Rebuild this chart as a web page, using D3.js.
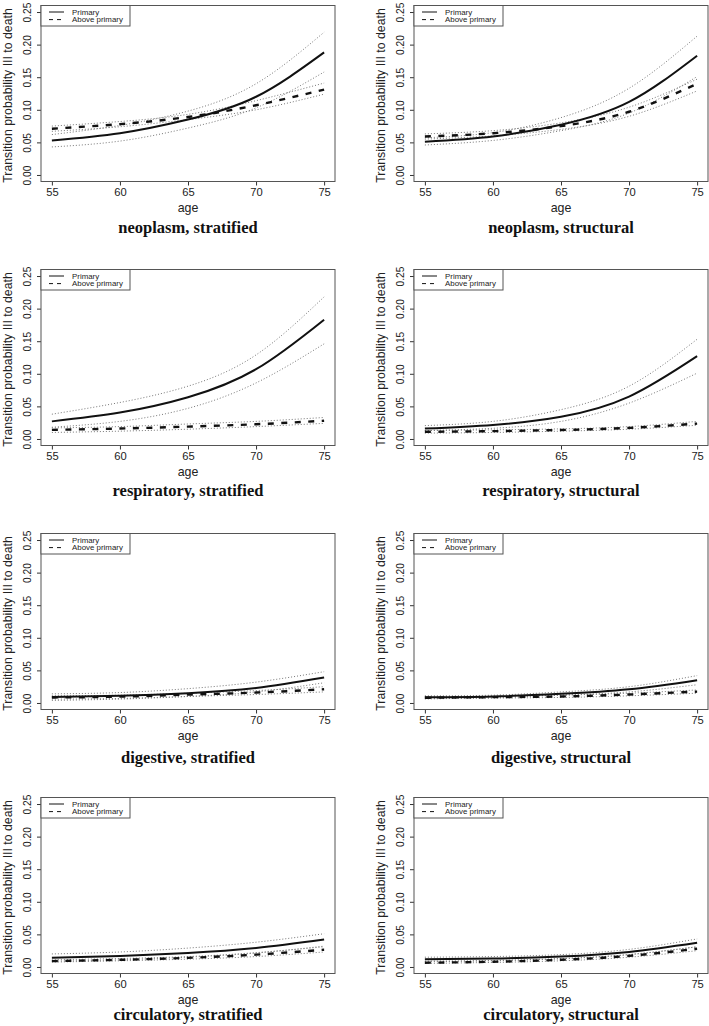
<!DOCTYPE html>
<html>
<head>
<meta charset="utf-8">
<script src="https://cdn.jsdelivr.net/npm/d3@7"></script>
<style>
  html, body { margin: 0; padding: 0; background: #fff; }
  svg { display: block; }
</style>
</head>
<body>
<svg id="chart" width="709" height="1026"></svg>
<script>
// ---------- data ----------
const ages = [55, 60, 65, 70, 75];
const xTicks = [55, 60, 65, 70, 75];
const yTicks = [0, 0.05, 0.10, 0.15, 0.20, 0.25];
const yLabel = "Transition probability III to death";
const xLabel = "age";
const legendLabels = ["Primary", "Above primary"];

const titles = [
  "neoplasm, stratified", "neoplasm, structural",
  "respiratory, stratified", "respiratory, structural",
  "digestive, stratified", "digestive, structural",
  "circulatory, stratified", "circulatory, structural"
];

// Primary (solid) estimate and confidence limits, per panel
const primary = [
  [0.053, 0.064, 0.085, 0.120, 0.188],
  [0.051, 0.059, 0.077, 0.112, 0.183],
  [0.027, 0.0405, 0.064, 0.107, 0.183],
  [0.016, 0.0216, 0.034, 0.065, 0.127],
  [0.009, 0.011, 0.015, 0.023, 0.039],
  [0.0087, 0.010, 0.014, 0.021, 0.035],
  [0.0143, 0.017, 0.0214, 0.029, 0.042],
  [0.012, 0.013, 0.016, 0.023, 0.037]
];
const primaryLo = [
  [0.043, 0.052, 0.072, 0.103, 0.158],
  [0.046, 0.053, 0.068, 0.095, 0.151],
  [0.018, 0.027, 0.047, 0.086, 0.146],
  [0.0128, 0.0164, 0.027, 0.055, 0.101],
  [0.004, 0.006, 0.010, 0.017, 0.031],
  [0.0065, 0.008, 0.012, 0.017, 0.028],
  [0.009, 0.011, 0.015, 0.0214, 0.032],
  [0.009, 0.010, 0.013, 0.019, 0.031]
];
const primaryHi = [
  [0.062, 0.076, 0.098, 0.140, 0.219],
  [0.057, 0.065, 0.088, 0.133, 0.213],
  [0.038, 0.056, 0.081, 0.129, 0.218],
  [0.0205, 0.027, 0.045, 0.081, 0.153],
  [0.014, 0.016, 0.022, 0.032, 0.048],
  [0.011, 0.012, 0.017, 0.025, 0.042],
  [0.020, 0.023, 0.029, 0.038, 0.051],
  [0.015, 0.016, 0.019, 0.027, 0.043]
];
// Above primary (dashed) estimate and confidence limits, per panel
const above = [
  [0.071, 0.078, 0.089, 0.107, 0.131],
  [0.059, 0.064, 0.075, 0.097, 0.140],
  [0.014, 0.016, 0.019, 0.0226, 0.028],
  [0.011, 0.012, 0.0138, 0.017, 0.0236],
  [0.0085, 0.0097, 0.0128, 0.016, 0.021],
  [0.008, 0.009, 0.010, 0.013, 0.0175],
  [0.009, 0.011, 0.014, 0.019, 0.0265],
  [0.0065, 0.008, 0.011, 0.017, 0.028]
];
const aboveLo = [
  [0.067, 0.074, 0.085, 0.100, 0.124],
  [0.055, 0.060, 0.070, 0.090, 0.129],
  [0.010, 0.012, 0.015, 0.019, 0.024],
  [0.009, 0.010, 0.012, 0.015, 0.021],
  [0.006, 0.007, 0.010, 0.013, 0.017],
  [0.0065, 0.0075, 0.0085, 0.011, 0.015],
  [0.0075, 0.0095, 0.012, 0.016, 0.023],
  [0.0055, 0.007, 0.0095, 0.015, 0.025]
];
const aboveHi = [
  [0.075, 0.082, 0.093, 0.114, 0.141],
  [0.063, 0.068, 0.080, 0.104, 0.147],
  [0.017, 0.019, 0.023, 0.027, 0.033],
  [0.013, 0.014, 0.0155, 0.019, 0.027],
  [0.011, 0.012, 0.015, 0.019, 0.025],
  [0.0095, 0.0105, 0.012, 0.015, 0.020],
  [0.011, 0.013, 0.016, 0.022, 0.031],
  [0.008, 0.0095, 0.0125, 0.019, 0.031]
];

// ---------- layout ----------
const colLeft = [41, 414];
const rowTop = [5.5, 269.5, 533.5, 797.5];
const titleOffset = [45.5, 44.5, 48, 40.5];
const W = 294, H = 176;
const axisColor = "#555";
const textColor = "#222";
const sans = "'Liberation Sans', Arial, Helvetica, sans-serif";
const serif = "'Liberation Serif', 'Times New Roman', serif";

const svg = d3.select("#chart");
const x = d3.scaleLinear().domain([54.2, 75.8]).range([0, W]);
const y = d3.scaleLinear().domain([-0.01, 0.26]).range([H, 0]);
const line = d3.line()
  .x((d, i) => x(ages[i]))
  .y(d => y(d))
  .curve(d3.curveNatural);

titles.forEach((title, p) => {
  const col = p % 2, row = Math.floor(p / 2);
  const g = svg.append("g")
    .attr("transform", `translate(${colLeft[col]},${rowTop[row]})`);

  // x axis
  const xa = g.append("g").attr("transform", `translate(0,${H})`)
    .call(d3.axisBottom(x).tickValues(xTicks).tickSize(4).tickPadding(3)
      .tickFormat(d3.format("d")));
  xa.select(".domain").remove();
  xa.selectAll("line").attr("stroke", "#333");
  xa.selectAll("text").attr("font-family", sans).attr("font-size", 11.2)
    .attr("fill", textColor);

  // y axis
  const ya = g.append("g")
    .call(d3.axisLeft(y).tickValues(yTicks).tickSize(4).tickPadding(0)
      .tickFormat(d3.format(".2f")));
  ya.select(".domain").remove();
  ya.selectAll("line").attr("stroke", "#333");
  ya.selectAll("text")
    .attr("font-family", sans).attr("font-size", 10.2).attr("fill", textColor)
    .attr("x", null).attr("dy", null)
    .attr("text-anchor", "middle")
    .attr("transform", "translate(-10,0) rotate(-90)");

  // box
  g.append("rect").attr("x", 0).attr("y", 0).attr("width", W).attr("height", H)
    .attr("fill", "none").attr("stroke", axisColor).attr("stroke-width", 1);

  // confidence limits (dotted)
  [primaryHi[p], primaryLo[p], aboveHi[p], aboveLo[p]].forEach(s => {
    g.append("path").attr("d", line(s)).attr("fill", "none")
      .attr("stroke", "#777").attr("stroke-width", 1)
      .attr("stroke-dasharray", "1,2");
  });
  // above primary (dashed)
  g.append("path").attr("d", line(above[p])).attr("fill", "none")
    .attr("stroke", "#111").attr("stroke-width", 2.4)
    .attr("stroke-dasharray", "6,7.5");
  // primary (solid)
  g.append("path").attr("d", line(primary[p])).attr("fill", "none")
    .attr("stroke", "#111").attr("stroke-width", 2);

  // legend
  const lg = g.append("g");
  lg.append("rect").attr("x", 0).attr("y", 0).attr("width", 89).attr("height", 20.5)
    .attr("fill", "#fff").attr("stroke", axisColor).attr("stroke-width", 1);
  const dashes = [null, "4,4"];
  legendLabels.forEach((lab, i) => {
    const ly = 6.5 + i * 7.6;
    lg.append("line").attr("x1", 8).attr("x2", 23).attr("y1", ly).attr("y2", ly)
      .attr("stroke", "#111").attr("stroke-width", 1)
      .attr("stroke-dasharray", dashes[i]);
    lg.append("text").attr("x", 31).attr("y", ly + 2.8)
      .attr("font-family", sans).attr("font-size", 7.9).attr("fill", textColor)
      .text(lab);
  });

  // y label
  g.append("text")
    .attr("transform", `translate(-33.5,${H / 2 + 2}) rotate(-90)`)
    .attr("text-anchor", "middle").attr("dy", "0.35em")
    .attr("font-family", sans).attr("font-size", 12.3).attr("fill", textColor)
    .text(yLabel);

  // x label
  g.append("text").attr("x", W / 2).attr("y", H + 26).attr("dy", "0.35em")
    .attr("text-anchor", "middle")
    .attr("font-family", sans).attr("font-size", 12.4).attr("fill", textColor)
    .text(xLabel);

  // panel title
  g.append("text").attr("x", W / 2).attr("y", H + titleOffset[row]).attr("dy", "0.35em")
    .attr("text-anchor", "middle")
    .attr("font-family", serif).attr("font-weight", "bold").attr("font-size", 16.5)
    .attr("fill", "#111")
    .text(title);
});
</script>
</body>
</html>
